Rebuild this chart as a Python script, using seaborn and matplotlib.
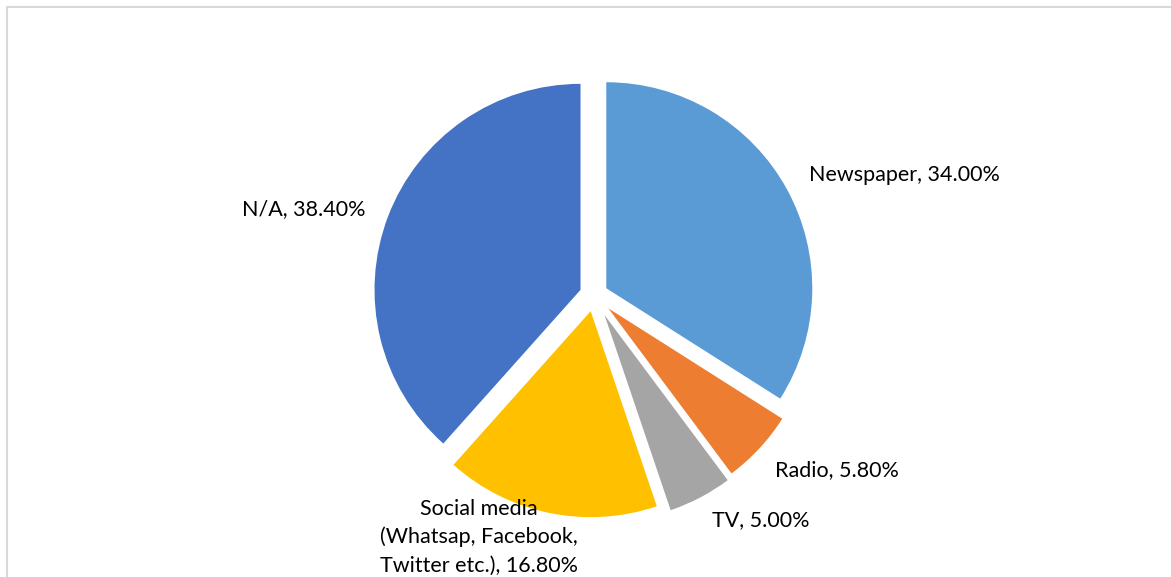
import matplotlib
matplotlib.use("Agg")
import matplotlib.pyplot as plt
import seaborn as sns
from matplotlib.patches import Rectangle

sns.set_theme(style="white")
plt.rcParams['font.family'] = ['Lato', 'DejaVu Sans']

# Data
categories = ["Newspaper", "Radio", "TV", "Social media\n(Whatsap, Facebook,\nTwitter etc.)", "N/A"]
values = [34.00, 5.80, 5.00, 16.80, 38.40]
colors = ["#5B9BD5", "#ED7D31", "#A5A5A5", "#FFC000", "#4472C4"]
explode = [0.068, 0.095, 0.11, 0.08, 0.07]

W, H = 1171, 577
fig = plt.figure(figsize=(W / 100, H / 100), dpi=100)
ax = fig.add_axes([0, 0, 1, 1])

R = 206.0
cx, cy = 594.0, 295.0  # pixel centre (y from top)
ax.pie(values, colors=colors, explode=explode, startangle=90, counterclock=False,
       radius=1.0, center=(0, 0), wedgeprops=dict(linewidth=0))
ax.set_xlim(-cx / R, (W - cx) / R)
ax.set_ylim(-(H - cy) / R, cy / R)
ax.set_aspect('equal')
ax.axis('off')

def px(x, y):
    return (x - cx) / R, (cy - y) / R

# label positions (pixels) and alignment
label_pos = [(809, 175, 'left'), (775, 470, 'left'), (712, 520, 'left'),
             (479, 537, 'center'), (366, 209, 'right')]
for cat, v, (x, y, ha) in zip(categories, values, label_pos):
    tx, ty = px(x, y)
    ax.text(tx, ty, f"{cat}, {v:.2f}%", ha=ha, va='center', fontsize=15.5,
            color='#000000', linespacing=1.5, multialignment='center')

# chart border
fig.patches.append(Rectangle((7 / W, -0.1), 1.2, 1 - 7 / H + 0.1, transform=fig.transFigure,
                             fill=False, edgecolor='#D9D9D9', linewidth=1.5))

fig.savefig("out.png", dpi=100, facecolor='white')
